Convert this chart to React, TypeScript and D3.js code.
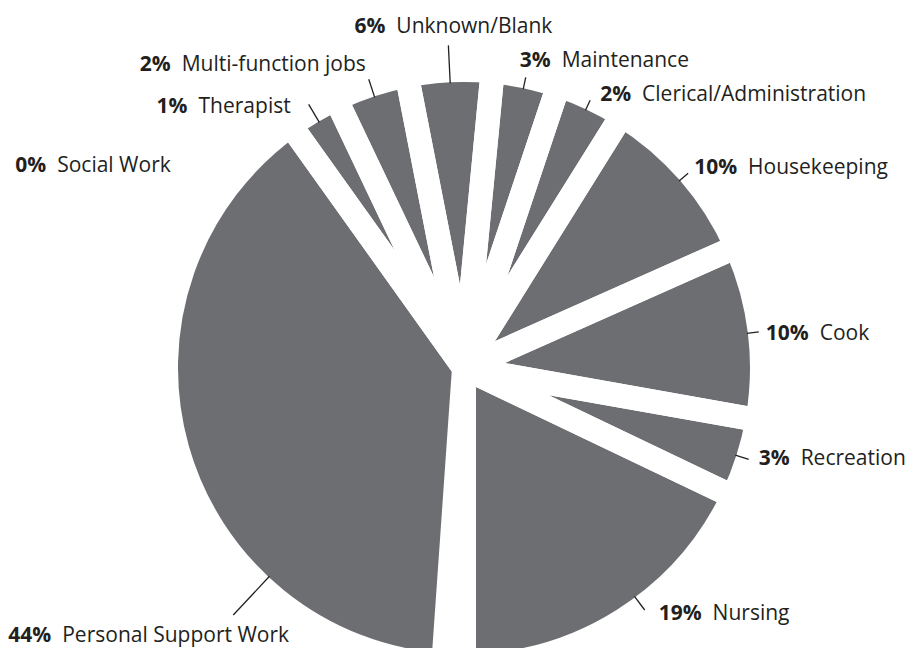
import React from 'react';
import * as d3 from 'd3';

// Categories in drawing order (clockwise, starting at the bottom gap)
const categories = [
  'Personal Support Work',
  'Therapist',
  'Multi-function jobs',
  'Unknown/Blank',
  'Maintenance',
  'Clerical/Administration',
  'Housekeeping',
  'Cook',
  'Recreation',
  'Nursing',
];
// Percent labels printed in the chart
const percentValues = [44, 1, 2, 6, 3, 2, 10, 10, 3, 19];
// Share of the circle each slice occupies as drawn
const drawnShare = [39.0, 2.8, 4.0, 4.6, 3.6, 3.75, 9.45, 9.45, 4.3, 17.9];
// Category with no slice
const zeroCategory = 'Social Work';
const zeroValue = 0;

// Label placement (layout only)
const labelLayout = [
  { at: 0.278, len: 52, dx: -225, dy: 27, anchor: 'start' },
  { at: 0.5, len: 20, dx: -18, dy: 9, anchor: 'end' },
  { at: 0.5, len: 18, dx: -3, dy: -8, anchor: 'end' },
  { at: 0.5, len: 37, dx: 5, dy: -12, anchor: 'middle' },
  { at: 0.5, len: 11, dx: -6, dy: -10, anchor: 'start' },
  { at: 0.5, len: 10, dx: 10, dy: 1, anchor: 'start' },
  { at: 0.5, len: 11, dx: 6, dy: 1, anchor: 'start' },
  { at: 0.5, len: 11, dx: 7, dy: 8, anchor: 'start' },
  { at: 0.5, len: 13, dx: 10, dy: 6, anchor: 'start' },
  { at: 0.43, len: 16, dx: 14, dy: 10, anchor: 'start' },
];

const W = 912;
const H = 648;
const CX = 464;
const CY = 368;
const GAP = 24;
const R_VIS = 286;
const R = R_VIS + GAP / 2;
const FILL = '#6d6e71';
const INK = '#231f20';
const FONT = "'Open Sans', 'Noto Sans', sans-serif";
const FS = 21;
const SEP = 11;

const toRad = (deg: number) => (deg * Math.PI) / 180;

export default function App() {
  const data = categories.map((c, i) => ({ cat: c, pct: percentValues[i], share: drawnShare[i], i }));
  const pie = d3
    .pie<any>()
    .sort(null)
    .value((d) => d.share)
    .startAngle(toRad(184))
    .endAngle(toRad(540));
  const arcs = pie(data);
  const arc = d3.arc<any>().innerRadius(0).outerRadius(R);

  const pt = (a: number, r: number) => [Math.sin(a) * r, -Math.cos(a) * r];

  const labels = arcs.map((a, k) => {
    const L = labelLayout[k];
    const ang = a.startAngle + (a.endAngle - a.startAngle) * L.at;
    const [x0, y0] = pt(ang, R_VIS - 1);
    const [x1, y1] = pt(ang, R_VIS + L.len);
    return { x0, y0, x1, y1, tx: x1 + L.dx, ty: y1 + L.dy, anchor: L.anchor, cat: a.data.cat, pct: a.data.pct };
  });

  // Social Work label sits beside the boundary between PSW and Therapist
  const swAngle = arcs[0].endAngle;
  const [sx, sy] = pt(swAngle, R_VIS);

  const fmt = (v: number) => `${v}%`;

  return (
    <svg width={W} height={H} style={{ position: 'absolute', left: 0, top: 0, background: '#fff' }}>
      <g transform={`translate(${CX},${CY})`}>
        {arcs.map((a, k) => (
          <path key={'f' + k} d={arc(a) as string} fill={FILL} />
        ))}
        {arcs.map((a, k) => (
          <path key={'s' + k} d={arc(a) as string} fill="none" stroke="#fff" strokeWidth={GAP} strokeLinejoin="bevel" />
        ))}
        {labels.map((l, k) => (
          <g key={'l' + k}>
            <line x1={l.x0} y1={l.y0} x2={l.x1} y2={l.y1} stroke={INK} strokeWidth={1.3} />
            <text x={l.tx} y={l.ty} textAnchor={l.anchor} fontFamily={FONT} fontSize={FS} fill={INK}>
              <tspan fontWeight="bold">{fmt(l.pct)}</tspan>
              <tspan dx={SEP}>{l.cat}</tspan>
            </text>
          </g>
        ))}
        <text x={sx - 127} y={sy + 37} textAnchor="end" fontFamily={FONT} fontSize={FS} fill={INK}>
          <tspan fontWeight="bold">{fmt(zeroValue)}</tspan>
          <tspan dx={SEP}>{zeroCategory}</tspan>
        </text>
      </g>
    </svg>
  );
}
